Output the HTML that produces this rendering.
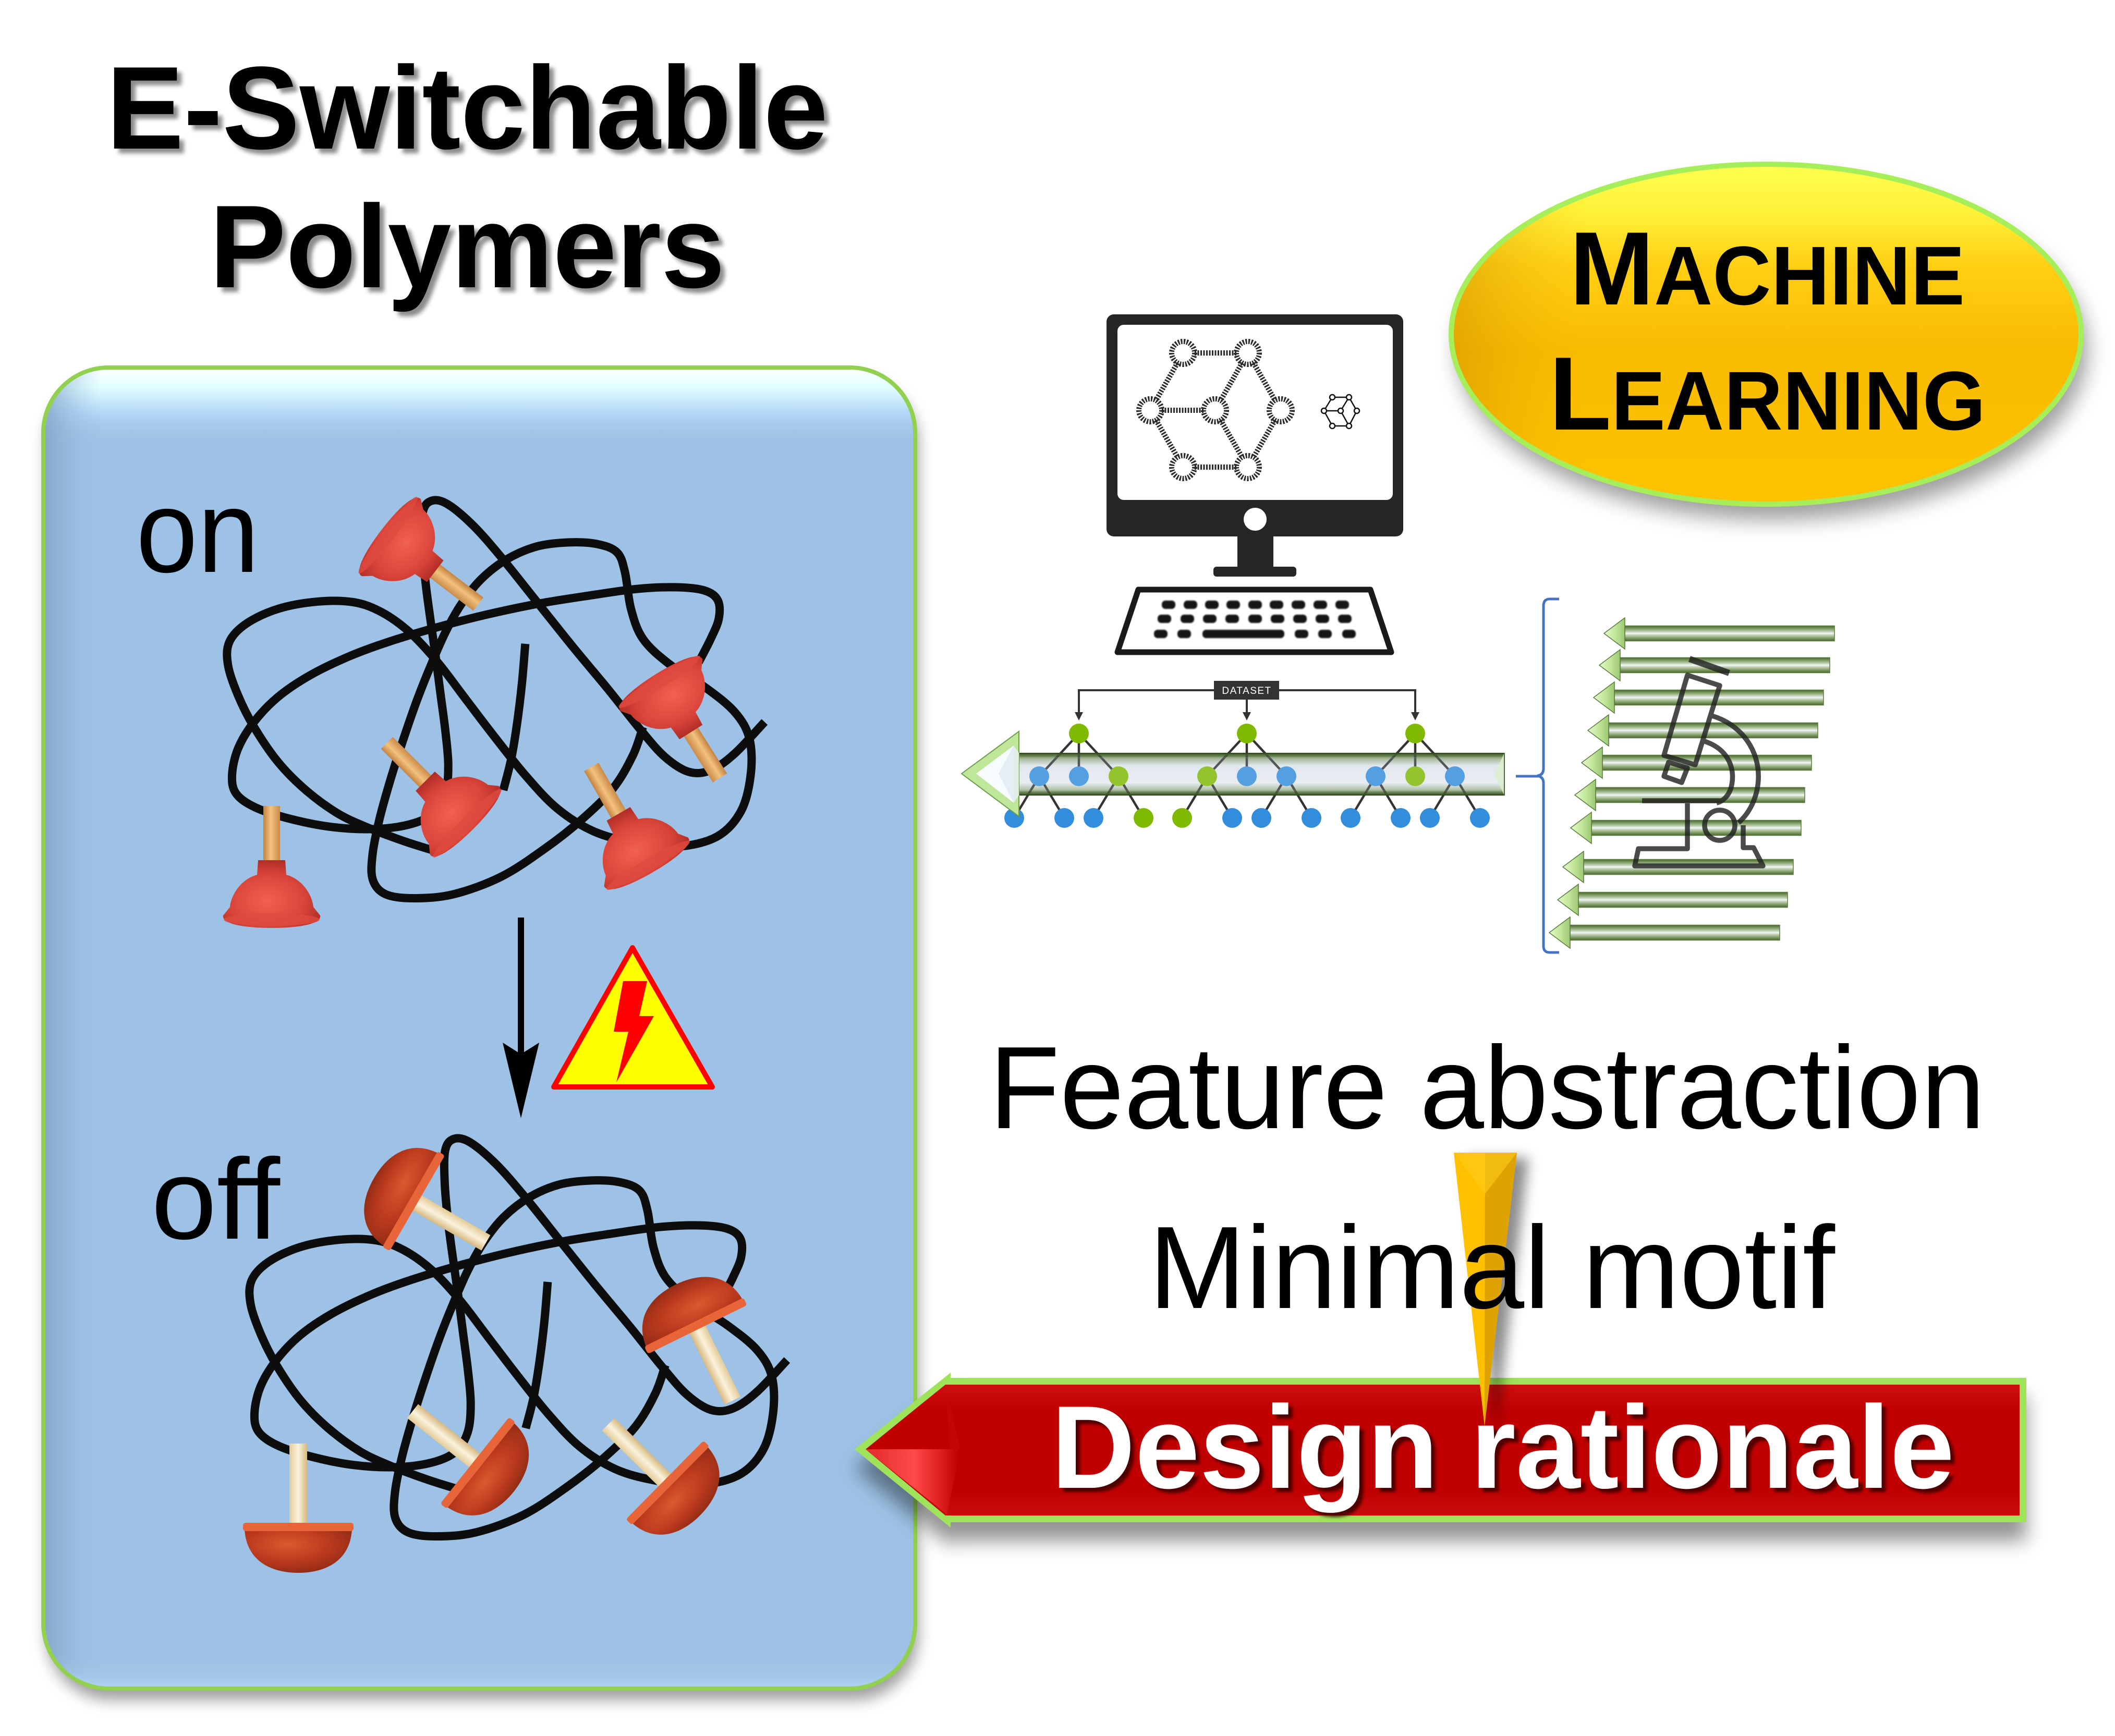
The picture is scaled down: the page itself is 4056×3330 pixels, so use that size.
<!DOCTYPE html>
<html><head><meta charset="utf-8"><style>
html,body{margin:0;padding:0;background:#fff;}
svg{display:block;}
text{font-family:"Liberation Sans",Arial,sans-serif;}
</style></head><body>
<svg xmlns="http://www.w3.org/2000/svg" width="4056" height="3330" viewBox="0 0 4056 3330">
<defs>
 <filter id="tsh" x="-5%" y="-10%" width="115%" height="140%"><feDropShadow dx="9" dy="9" stdDeviation="4" flood-color="#000" flood-opacity="0.45"/></filter>
 <filter id="bsh" x="-5%" y="-5%" width="112%" height="112%"><feDropShadow dx="6" dy="22" stdDeviation="14" flood-color="#000" flood-opacity="0.38"/></filter>
 <filter id="esh" x="-10%" y="-10%" width="125%" height="130%"><feDropShadow dx="12" dy="30" stdDeviation="20" flood-color="#000" flood-opacity="0.38"/></filter>
 <filter id="rsh" x="-5%" y="-20%" width="112%" height="160%"><feDropShadow dx="0" dy="36" stdDeviation="18" flood-color="#000" flood-opacity="0.42"/></filter>
 <filter id="ssh" x="-60%" y="-5%" width="260%" height="115%"><feDropShadow dx="22" dy="10" stdDeviation="12" flood-color="#000" flood-opacity="0.45"/></filter>
 <filter id="dsh" x="-5%" y="-10%" width="115%" height="140%"><feDropShadow dx="8" dy="8" stdDeviation="3" flood-color="#3a0000" flood-opacity="0.85"/></filter>
 <filter id="kblur" x="-10%" y="-30%" width="120%" height="160%"><feGaussianBlur stdDeviation="1.2"/></filter>

 <clipPath id="boxclip"><rect x="83" y="705" width="1672" height="2534" rx="125"/></clipPath>
 <linearGradient id="topbev" x1="0" y1="0" x2="0" y2="1">
  <stop offset="0" stop-color="#ffffff" stop-opacity="1"/>
  <stop offset="0.25" stop-color="#e2ffff" stop-opacity="1"/>
  <stop offset="0.55" stop-color="#b8daf8" stop-opacity="1"/>
  <stop offset="1" stop-color="#9dc2e5" stop-opacity="0"/>
 </linearGradient>
 <linearGradient id="leftbev" x1="0" y1="0" x2="1" y2="0">
  <stop offset="0" stop-color="#7f9fc2" stop-opacity="0.8"/>
  <stop offset="1" stop-color="#9dc2e5" stop-opacity="0"/>
 </linearGradient>
 <linearGradient id="botbev" x1="0" y1="0" x2="0" y2="1">
  <stop offset="0" stop-color="#9dc2e5" stop-opacity="0"/>
  <stop offset="1" stop-color="#b2d4f2" stop-opacity="1"/>
 </linearGradient>

 <radialGradient id="cupRed" cx="0.45" cy="0.6" r="0.65">
  <stop offset="0" stop-color="#f2624f"/><stop offset="0.6" stop-color="#d9443a"/><stop offset="1" stop-color="#a82a22"/>
 </radialGradient>
 <linearGradient id="wood" x1="0" y1="0" x2="1" y2="0">
  <stop offset="0" stop-color="#c4823f"/><stop offset="0.45" stop-color="#f2c27c"/><stop offset="1" stop-color="#c98a48"/>
 </linearGradient>
 <radialGradient id="domeRed" cx="0.4" cy="0.35" r="0.7">
  <stop offset="0" stop-color="#d95a2e"/><stop offset="0.55" stop-color="#bb3a1e"/><stop offset="1" stop-color="#8e2a14"/>
 </radialGradient>
 <linearGradient id="cream" x1="0" y1="0" x2="1" y2="0">
  <stop offset="0" stop-color="#e3cb98"/><stop offset="0.5" stop-color="#fbf2dc"/><stop offset="1" stop-color="#d6b880"/>
 </linearGradient>

 <g id="plOn">
  <rect x="-16" y="-232" width="32" height="122" fill="url(#wood)"/>
  <path d="M -26,-128 L 26,-128 L 28,-100 C 58,-92 78,-62 80,-38 L 93,-22 C 96,-5 50,2 0,2 C -50,2 -96,-5 -93,-22 L -80,-38 C -78,-62 -58,-92 -28,-100 Z" fill="url(#cupRed)"/>
  <ellipse cx="0" cy="-14" rx="92" ry="12" fill="#e04a3e" opacity="0.8"/>
 </g>
 <g id="plOff">
  <rect x="-17" y="-158" width="34" height="160" fill="url(#cream)"/>
  <path d="M -103,6 C -100,65 -55,90 0,90 C 55,90 100,65 103,6 Z" fill="url(#domeRed)"/>
  <rect x="-106" y="-6" width="212" height="16" rx="5" fill="#e8653a"/>
 </g>

 <linearGradient id="ellG" x1="0" y1="0" x2="0" y2="1">
  <stop offset="0" stop-color="#ffff50"/><stop offset="0.14" stop-color="#fff23a"/>
  <stop offset="0.3" stop-color="#ffcf14"/><stop offset="0.55" stop-color="#f8bb00"/><stop offset="1" stop-color="#ffc300"/>
 </linearGradient>
 <linearGradient id="ellL" x1="0" y1="0" x2="1" y2="0">
  <stop offset="0" stop-color="#c88a00" stop-opacity="0.45"/><stop offset="0.22" stop-color="#f5b800" stop-opacity="0"/>
 </linearGradient>
 <clipPath id="ellclip"><ellipse cx="3387" cy="641" rx="604" ry="326"/></clipPath>

 <linearGradient id="tubeG" x1="0" y1="0" x2="0" y2="1">
  <stop offset="0" stop-color="#3d5a27"/><stop offset="0.12" stop-color="#8fa67c"/><stop offset="0.3" stop-color="#dfe5ec"/>
  <stop offset="0.7" stop-color="#e8ecf2"/><stop offset="0.88" stop-color="#9fb38f"/><stop offset="1" stop-color="#3d5a27"/>
 </linearGradient>
 <linearGradient id="edgeT" x1="0" y1="0" x2="0" y2="1">
  <stop offset="0" stop-color="#34501f" stop-opacity="0.95"/><stop offset="1" stop-color="#7f9968" stop-opacity="0"/>
 </linearGradient>
 <linearGradient id="edgeB" x1="0" y1="0" x2="0" y2="1">
  <stop offset="0" stop-color="#7f9968" stop-opacity="0"/><stop offset="1" stop-color="#34501f" stop-opacity="0.95"/>
 </linearGradient>
 <linearGradient id="sh" x1="0" y1="0" x2="0" y2="1">
  <stop offset="0" stop-color="#4a682c"/><stop offset="0.22" stop-color="#8aa572"/><stop offset="0.42" stop-color="#cfdcc6"/>
  <stop offset="0.5" stop-color="#f4f8ff"/><stop offset="0.58" stop-color="#cfdcc6"/><stop offset="0.78" stop-color="#8aa572"/><stop offset="1" stop-color="#4a682c"/>
 </linearGradient>
 <linearGradient id="hd" x1="0" y1="0" x2="1" y2="0">
  <stop offset="0" stop-color="#e6f8d0"/><stop offset="0.5" stop-color="#c4e89c"/><stop offset="1" stop-color="#9cc873"/>
 </linearGradient>
 <linearGradient id="redG" x1="0" y1="0" x2="0" y2="1">
  <stop offset="0" stop-color="#cc0f0f"/><stop offset="0.2" stop-color="#c00000"/><stop offset="0.8" stop-color="#c00000"/><stop offset="1" stop-color="#c90c0c"/>
 </linearGradient>
 <linearGradient id="foldG" x1="1680" y1="0" x2="1840" y2="0" gradientUnits="userSpaceOnUse">
  <stop offset="0" stop-color="#e83030"/><stop offset="0.45" stop-color="#ff4a4a"/><stop offset="0.75" stop-color="#e02222"/><stop offset="1" stop-color="#c00000"/>
 </linearGradient>
</defs>

<rect width="4056" height="3330" fill="#fff"/>

<!-- Title -->
<g filter="url(#tsh)" font-weight="bold" font-size="226" fill="#000">
 <text x="204" y="285" textLength="1384" lengthAdjust="spacingAndGlyphs">E-Switchable</text>
 <text x="402" y="551" textLength="988" lengthAdjust="spacingAndGlyphs">Polymers</text>
</g>

<!-- Blue box -->
<rect x="83" y="705" width="1672" height="2534" rx="125" fill="#9dc2e5" filter="url(#bsh)"/>
<g clip-path="url(#boxclip)">
 <rect x="83" y="705" width="1672" height="150" fill="url(#topbev)"/>
 <rect x="83" y="705" width="110" height="2534" fill="url(#leftbev)"/>
 <rect x="83" y="3180" width="1672" height="60" fill="url(#botbev)"/>
</g>
<rect x="83" y="705" width="1672" height="2534" rx="125" fill="none" stroke="#92d050" stroke-width="8"/>

<text x="261" y="1097" font-size="225" textLength="236" lengthAdjust="spacingAndGlyphs">on</text>
<text x="290" y="2376" font-size="220" textLength="247" lengthAdjust="spacingAndGlyphs">off</text>

<!-- Tangles -->
<g transform="translate(380,900) scale(0.765,0.638)" fill="none" stroke="#0d0d0d" stroke-width="16" stroke-linecap="butt" stroke-linejoin="round">
 <polyline class="sm" vector-effect="non-scaling-stroke" points="1255,580 1285,510 1305,450 1303,395 1270,365 1200,355 1100,360 980,380 850,405 720,438 600,475 480,518 380,562 280,620 200,685 140,760 100,840 85,920 95,975 140,1015 220,1048 330,1075 440,1082 530,1068 590,1035 620,975 627,890 620,790 608,680 595,560 582,450 570,340 562,230 563,130 585,95 625,105 690,170 760,265 850,400 940,535 1030,665 1110,785 1170,865 1230,910 1285,905 1345,855 1420,760"/>
 <polyline class="sm" vector-effect="non-scaling-stroke" points="600,1150 520,1120 430,1080 350,1035 270,965 200,880 140,775 100,680 75,590 78,520 120,465 200,420 300,398 390,400 460,430 530,490 600,580 670,690 740,800 820,920 900,1020 990,1088 1090,1122 1200,1135 1300,1105 1360,1030 1385,920 1382,810 1345,730 1270,655 1180,585 1115,510 1085,420 1070,310 1050,250 1000,225 930,220 850,232 775,270 710,330 660,405 620,490 585,585 550,690 515,810 483,930 455,1050 437,1160 438,1235 470,1278 540,1290 640,1278 760,1225 870,1140 960,1055 1040,960 1090,860 1115,775"/>
 <polyline class="sm" vector-effect="non-scaling-stroke" points="820,525 812,640 800,760 785,870 765,965"/>
</g>
<g transform="translate(423,2124) scale(0.765,0.638)" fill="none" stroke="#0d0d0d" stroke-width="16" stroke-linecap="butt" stroke-linejoin="round">
 <polyline class="sm" vector-effect="non-scaling-stroke" points="1255,580 1285,510 1305,450 1303,395 1270,365 1200,355 1100,360 980,380 850,405 720,438 600,475 480,518 380,562 280,620 200,685 140,760 100,840 85,920 95,975 140,1015 220,1048 330,1075 440,1082 530,1068 590,1035 620,975 627,890 620,790 608,680 595,560 582,450 570,340 562,230 563,130 585,95 625,105 690,170 760,265 850,400 940,535 1030,665 1110,785 1170,865 1230,910 1285,905 1345,855 1420,760"/>
 <polyline class="sm" vector-effect="non-scaling-stroke" points="600,1150 520,1120 430,1080 350,1035 270,965 200,880 140,775 100,680 75,590 78,520 120,465 200,420 300,398 390,400 460,430 530,490 600,580 670,690 740,800 820,920 900,1020 990,1088 1090,1122 1200,1135 1300,1105 1360,1030 1385,920 1382,810 1345,730 1270,655 1180,585 1115,510 1085,420 1070,310 1050,250 1000,225 930,220 850,232 775,270 710,330 660,405 620,490 585,585 550,690 515,810 483,930 455,1050 437,1160 438,1235 470,1278 540,1290 640,1278 760,1225 870,1140 960,1055 1040,960 1090,860 1115,775"/>
 <polyline class="sm" vector-effect="non-scaling-stroke" points="820,525 812,640 800,760 785,870 765,965"/>
</g>

<!-- Plungers ON -->
<use href="#plOn" transform="translate(733,1018) rotate(127.4)"/>
<use href="#plOn" transform="translate(1257,1296) rotate(147.8)"/>
<use href="#plOn" transform="translate(906,1589) rotate(-45)"/>
<use href="#plOn" transform="translate(1250,1672) rotate(-30)"/>
<use href="#plOn" transform="translate(521,1778)"/>
<!-- Plungers OFF -->
<use href="#plOff" transform="translate(795,2305) rotate(120)"/>
<use href="#plOff" transform="translate(1335,2545) rotate(153.8)"/>
<use href="#plOff" transform="translate(915,2805) rotate(-51.5)"/>
<use href="#plOff" transform="translate(1279,2843) rotate(-45.4)"/>
<use href="#plOff" transform="translate(572,2927)"/>

<!-- Down arrow -->
<line x1="999" y1="1760" x2="999" y2="2030" stroke="#000" stroke-width="12"/>
<path d="M 964,2000 L 999,2145 L 1034,2000 L 999,2022 Z" fill="#000"/>

<!-- Warning triangle -->
<path d="M 1213,1818 L 1366,2085 L 1062,2085 Z" fill="#ffff00" stroke="#ff0000" stroke-width="10" stroke-linejoin="round"/>
<polygon points="1195,1882 1241,1882 1226,1949 1254,1949 1182,2076 1205,1979 1177,1979" fill="#ff0000"/>

<!-- Monitor -->
<rect x="2122" y="603" width="569" height="426" rx="14" fill="#262626"/>
<rect x="2143" y="623" width="528" height="336" rx="12" fill="#fff"/>
<circle cx="2407" cy="996" r="22" fill="#fff"/>
<rect x="2373" y="1025" width="69" height="67" fill="#262626"/>
<rect x="2327" y="1087" width="159" height="19" rx="6" fill="#262626"/>
<g stroke="#2a2a2a" stroke-width="10" stroke-dasharray="3 2.5" fill="none">
 <line x1="2269" y1="677" x2="2393" y2="677"/>
 <line x1="2269" y1="677" x2="2206" y2="787"/>
 <line x1="2393" y1="677" x2="2330" y2="787"/>
 <line x1="2393" y1="677" x2="2456" y2="787"/>
 <line x1="2206" y1="787" x2="2330" y2="787"/>
 <line x1="2206" y1="787" x2="2269" y2="896"/>
 <line x1="2330" y1="787" x2="2393" y2="896"/>
 <line x1="2456" y1="787" x2="2393" y2="896"/>
 <line x1="2269" y1="896" x2="2393" y2="896"/>
</g>
<g stroke="#2a2a2a" stroke-width="10" stroke-dasharray="3 2.5" fill="#fff">
 <circle cx="2269" cy="677" r="22"/><circle cx="2393" cy="677" r="22"/>
 <circle cx="2206" cy="787" r="22"/><circle cx="2330" cy="787" r="22"/><circle cx="2456" cy="787" r="22"/>
 <circle cx="2269" cy="896" r="22"/><circle cx="2393" cy="896" r="22"/>
</g>
<g stroke="#111" stroke-width="2.5" fill="none">
 <line x1="2555" y1="762" x2="2587" y2="762"/><line x1="2555" y1="762" x2="2539" y2="788"/>
 <line x1="2587" y1="762" x2="2602" y2="788"/><line x1="2539" y1="788" x2="2555" y2="817"/>
 <line x1="2602" y1="788" x2="2587" y2="817"/><line x1="2555" y1="817" x2="2587" y2="817"/>
 <line x1="2571" y1="788" x2="2539" y2="788"/><line x1="2571" y1="788" x2="2587" y2="762"/><line x1="2571" y1="788" x2="2587" y2="817"/>
</g>
<g stroke="#111" stroke-width="2.5" fill="#fff">
 <circle cx="2555" cy="762" r="5"/><circle cx="2587" cy="762" r="5"/><circle cx="2539" cy="788" r="5"/>
 <circle cx="2571" cy="788" r="5"/><circle cx="2602" cy="788" r="5"/><circle cx="2555" cy="817" r="5"/><circle cx="2587" cy="817" r="5"/>
</g>
<!-- Keyboard -->
<polygon points="2183,1131 2628,1131 2668,1251 2143,1251" fill="#fff" stroke="#1a1a1a" stroke-width="11" stroke-linejoin="round"/>
<g fill="#151515" filter="url(#kblur)">
 <rect x="2228" y="1152" width="26" height="16" rx="7"/><rect x="2270" y="1152" width="26" height="16" rx="7"/><rect x="2311" y="1152" width="26" height="16" rx="7"/>
 <rect x="2352" y="1152" width="26" height="16" rx="7"/><rect x="2394" y="1152" width="26" height="16" rx="7"/><rect x="2435" y="1152" width="26" height="16" rx="7"/>
 <rect x="2477" y="1152" width="26" height="16" rx="7"/><rect x="2519" y="1152" width="26" height="16" rx="7"/><rect x="2561" y="1152" width="26" height="16" rx="7"/>
 <rect x="2220" y="1179" width="26" height="16" rx="7"/><rect x="2264" y="1179" width="26" height="16" rx="7"/><rect x="2307" y="1179" width="26" height="16" rx="7"/>
 <rect x="2350" y="1179" width="26" height="16" rx="7"/><rect x="2394" y="1179" width="26" height="16" rx="7"/><rect x="2437" y="1179" width="26" height="16" rx="7"/>
 <rect x="2480" y="1179" width="26" height="16" rx="7"/><rect x="2523" y="1179" width="26" height="16" rx="7"/><rect x="2566" y="1179" width="26" height="16" rx="7"/>
 <rect x="2213" y="1208" width="26" height="16" rx="7"/><rect x="2258" y="1208" width="26" height="16" rx="7"/>
 <rect x="2306" y="1208" width="157" height="16" rx="7"/>
 <rect x="2483" y="1208" width="26" height="16" rx="7"/><rect x="2528" y="1208" width="26" height="16" rx="7"/><rect x="2574" y="1208" width="26" height="16" rx="7"/>
</g>

<!-- Dataset tree -->
<g stroke="#333" stroke-width="4" fill="none">
 <polyline points="2069,1372 2069,1324 2714,1324 2714,1372"/>
 <line x1="2391" y1="1342" x2="2391" y2="1372"/>
</g>
<g fill="#333">
 <polygon points="2061,1366 2077,1366 2069,1382"/><polygon points="2383,1366 2399,1366 2391,1382"/><polygon points="2706,1366 2722,1366 2714,1382"/>
</g>
<rect x="2328" y="1306" width="125" height="36" fill="#333"/>
<text x="2391" y="1331" font-size="19" fill="#fff" text-anchor="middle" letter-spacing="1.5">DATASET</text>

<!-- Tube body (under tree) -->
<rect x="1954" y="1444" width="931" height="82" fill="url(#tubeG)"/>

<g stroke="#333" stroke-width="4.5">
 <line x1="2069" y1="1407" x2="1993" y2="1489"/><line x1="2069" y1="1407" x2="2069" y2="1489"/><line x1="2069" y1="1407" x2="2145" y2="1489"/>
 <line x1="2391" y1="1407" x2="2315" y2="1489"/><line x1="2391" y1="1407" x2="2391" y2="1489"/><line x1="2391" y1="1407" x2="2467" y2="1489"/>
 <line x1="2714" y1="1407" x2="2638" y2="1489"/><line x1="2714" y1="1407" x2="2714" y2="1489"/><line x1="2714" y1="1407" x2="2790" y2="1489"/>
 <line x1="1993" y1="1489" x2="1945" y2="1569"/><line x1="1993" y1="1489" x2="2041" y2="1569"/>
 <line x1="2145" y1="1489" x2="2097" y2="1569"/><line x1="2145" y1="1489" x2="2193" y2="1569"/>
 <line x1="2315" y1="1489" x2="2267" y2="1569"/><line x1="2315" y1="1489" x2="2363" y2="1569"/>
 <line x1="2467" y1="1489" x2="2419" y2="1569"/><line x1="2467" y1="1489" x2="2515" y2="1569"/>
 <line x1="2638" y1="1489" x2="2590" y2="1569"/><line x1="2638" y1="1489" x2="2686" y2="1569"/>
 <line x1="2790" y1="1489" x2="2742" y2="1569"/><line x1="2790" y1="1489" x2="2838" y2="1569"/>
</g>
<g>
 <circle cx="2069" cy="1407" r="19" fill="#7fba00"/><circle cx="2391" cy="1407" r="19" fill="#7fba00"/><circle cx="2714" cy="1407" r="19" fill="#7fba00"/>
 <circle cx="1993" cy="1489" r="19" fill="#338ddd"/><circle cx="2069" cy="1489" r="19" fill="#338ddd"/><circle cx="2145" cy="1489" r="19" fill="#7fba00"/>
 <circle cx="2315" cy="1489" r="19" fill="#7fba00"/><circle cx="2391" cy="1489" r="19" fill="#338ddd"/><circle cx="2467" cy="1489" r="19" fill="#338ddd"/>
 <circle cx="2638" cy="1489" r="19" fill="#338ddd"/><circle cx="2714" cy="1489" r="19" fill="#7fba00"/><circle cx="2790" cy="1489" r="19" fill="#338ddd"/>
 <circle cx="1945" cy="1569" r="19" fill="#338ddd"/><circle cx="2041" cy="1569" r="19" fill="#338ddd"/><circle cx="2097" cy="1569" r="19" fill="#338ddd"/>
 <circle cx="2193" cy="1569" r="19" fill="#7fba00"/><circle cx="2267" cy="1569" r="19" fill="#7fba00"/><circle cx="2363" cy="1569" r="19" fill="#338ddd"/>
 <circle cx="2419" cy="1569" r="19" fill="#338ddd"/><circle cx="2515" cy="1569" r="19" fill="#338ddd"/><circle cx="2590" cy="1569" r="19" fill="#338ddd"/>
 <circle cx="2686" cy="1569" r="19" fill="#338ddd"/><circle cx="2742" cy="1569" r="19" fill="#338ddd"/><circle cx="2838" cy="1569" r="19" fill="#338ddd"/>
</g>
<!-- Tube overlay: light wash + dark edges -->
<rect x="1954" y="1452" width="931" height="66" fill="#eef2f7" opacity="0.18"/>
<rect x="1954" y="1444" width="931" height="12" fill="url(#edgeT)"/>
<rect x="1954" y="1514" width="931" height="12" fill="url(#edgeB)"/>
<line x1="1954" y1="1445" x2="2885" y2="1445" stroke="#2f4a1c" stroke-width="2"/>
<line x1="1954" y1="1525" x2="2885" y2="1525" stroke="#2f4a1c" stroke-width="2"/>
<polygon points="2885,1444 2885,1526 2866,1485" fill="#dbeecb" opacity="0.85"/>
<line x1="2885" y1="1444" x2="2885" y2="1526" stroke="#4d6b30" stroke-width="2"/>
<polygon points="1844,1484 1954,1403 1954,1566" fill="#bfe79a" stroke="#6e9a4a" stroke-width="2"/>
<polygon points="1872,1484 1944,1430 1944,1540" fill="#f6fcff"/>
<polygon points="1944,1430 1954,1444 1954,1526 1944,1540 1915,1484" fill="#e4ecf4" opacity="0.9"/>

<!-- Bracket -->
<path d="M 2990,1149 L 2972,1149 Q 2960,1149 2960,1162 L 2960,1474 Q 2960,1487 2948,1488 Q 2960,1490 2960,1502 L 2960,1815 Q 2960,1827 2972,1827 L 2990,1827" fill="none" stroke="#4472c4" stroke-width="5"/>
<line x1="2907" y1="1489" x2="2950" y2="1489" stroke="#4472c4" stroke-width="5"/>

<!-- Stack arrows -->
<g stroke="#5b7a3c" stroke-width="1.5">
 <rect x="3116" y="1200.5" width="402" height="29" fill="url(#sh)"/><polygon points="3076,1215 3116,1185 3116,1245" fill="url(#hd)"/>
 <rect x="3107" y="1261.5" width="402" height="29" fill="url(#sh)"/><polygon points="3067,1276 3107,1246 3107,1306" fill="url(#hd)"/>
 <rect x="3096" y="1323.5" width="401" height="29" fill="url(#sh)"/><polygon points="3056,1338 3096,1308 3096,1368" fill="url(#hd)"/>
 <rect x="3085" y="1386.5" width="401" height="29" fill="url(#sh)"/><polygon points="3045,1401 3085,1371 3085,1431" fill="url(#hd)"/>
 <rect x="3073" y="1448.5" width="401" height="29" fill="url(#sh)"/><polygon points="3033,1463 3073,1433 3073,1493" fill="url(#hd)"/>
 <rect x="3060" y="1510.5" width="401" height="29" fill="url(#sh)"/><polygon points="3020,1525 3060,1495 3060,1555" fill="url(#hd)"/>
 <rect x="3052" y="1573.5" width="402" height="29" fill="url(#sh)"/><polygon points="3012,1588 3052,1558 3052,1618" fill="url(#hd)"/>
 <rect x="3037" y="1648.5" width="402" height="29" fill="url(#sh)"/><polygon points="2997,1663 3037,1633 3037,1693" fill="url(#hd)"/>
 <rect x="3027" y="1711.5" width="401" height="29" fill="url(#sh)"/><polygon points="2987,1726 3027,1696 3027,1756" fill="url(#hd)"/>
 <rect x="3011" y="1774.5" width="402" height="29" fill="url(#sh)"/><polygon points="2971,1789 3011,1759 3011,1819" fill="url(#hd)"/>
</g>
<!-- Microscope -->
<g fill="none" stroke="#1e1e1e" stroke-width="9.5" stroke-linejoin="round" opacity="0.8">
 <line x1="3240" y1="1264" x2="3316" y2="1291" stroke-width="12"/>
 <polygon points="3236,1295 3298,1315 3251,1467 3191,1449"/>
 <polygon points="3200,1462 3236,1473 3225,1501 3191,1489"/>
 <path d="M 3283,1373 C 3340,1390 3375,1440 3372,1496 C 3370,1530 3355,1560 3334,1578"/>
 <path d="M 3262,1420 C 3310,1432 3330,1470 3320,1510 C 3315,1528 3302,1538 3292,1540"/>
 <line x1="3149" y1="1536" x2="3303" y2="1536"/>
 <circle cx="3298" cy="1583" r="29"/>
 <polyline points="3236,1541 3236,1628 3142,1628 3135,1661 3381,1661 3363,1626 3343,1626 3343,1583"/>
</g>

<!-- Machine Learning ellipse -->
<ellipse cx="3387" cy="641" rx="604" ry="326" fill="#f5b800" filter="url(#esh)"/>
<ellipse cx="3387" cy="641" rx="604" ry="326" fill="url(#ellG)"/>
<rect x="2783" y="315" width="1210" height="660" fill="url(#ellL)" clip-path="url(#ellclip)"/>
<ellipse cx="3387" cy="641" rx="604" ry="326" fill="none" stroke="#a6ee5a" stroke-width="10"/>
<text x="3010" y="584" font-weight="bold" font-size="200" textLength="758" lengthAdjust="spacingAndGlyphs">M<tspan font-size="160">ACHINE</tspan></text>
<text x="2971" y="824" font-weight="bold" font-size="200" textLength="837" lengthAdjust="spacingAndGlyphs">L<tspan font-size="160">EARNING</tspan></text>

<!-- Right texts -->
<text x="1897" y="2164" font-size="225" textLength="1910" lengthAdjust="spacingAndGlyphs">Feature abstraction</text>

<!-- Red arrow -->
<g filter="url(#rsh)">
 <polygon points="1639,2780 1823,2633 1823,2643 3886,2643 3886,2920 1823,2920 1823,2930" fill="#9ee35a"/>
</g>
<polygon points="1660,2780 1813,2656 3873,2656 3873,2907 1813,2907" fill="url(#redG)"/>
<polygon points="1660,2780 1842,2780 1816,2905" fill="url(#foldG)"/>
<polygon points="1813,2656 1842,2780 1822,2780" fill="#c80808" opacity="0.6"/>

<!-- Yellow spike -->
<g filter="url(#ssh)">
 <polygon points="2788,2211 2848,2211 2847,2736" fill="#ffc000"/>
 <polygon points="2848,2211 2909,2211 2847,2736" fill="#dea300"/>
</g>
<polygon points="2788,2211 2909,2211 2848,2290" fill="#ffcb1a" opacity="0.6"/>

<text x="2203" y="2509" font-size="225" textLength="1316" lengthAdjust="spacingAndGlyphs">Minimal motif</text>
<text x="2016" y="2854" font-size="226" font-weight="bold" fill="#fff" textLength="1732" lengthAdjust="spacingAndGlyphs" filter="url(#dsh)">Design rationale</text>

</svg>
<script>
(function(){
 var ns="http://www.w3.org/2000/svg";
 var els=document.querySelectorAll("polyline.sm");
 for(var k=0;k<els.length;k++){
  var pl=els[k];
  var raw=pl.getAttribute("points").trim().split(/\s+/);
  var p=raw.map(function(s){var a=s.split(",");return [parseFloat(a[0]),parseFloat(a[1])];});
  var d="M "+p[0][0]+","+p[0][1];
  for(var i=0;i<p.length-1;i++){
   var p0=p[i-1]||p[i],p1=p[i],p2=p[i+1],p3=p[i+2]||p[i+1];
   var c1x=p1[0]+(p2[0]-p0[0])/6,c1y=p1[1]+(p2[1]-p0[1])/6;
   var c2x=p2[0]-(p3[0]-p1[0])/6,c2y=p2[1]-(p3[1]-p1[1])/6;
   d+=" C "+c1x.toFixed(1)+","+c1y.toFixed(1)+" "+c2x.toFixed(1)+","+c2y.toFixed(1)+" "+p2[0]+","+p2[1];
  }
  var path=document.createElementNS(ns,"path");
  path.setAttribute("d",d);
  path.setAttribute("vector-effect","non-scaling-stroke");
  pl.parentNode.replaceChild(path,pl);
 }
})();
</script>
</body></html>
